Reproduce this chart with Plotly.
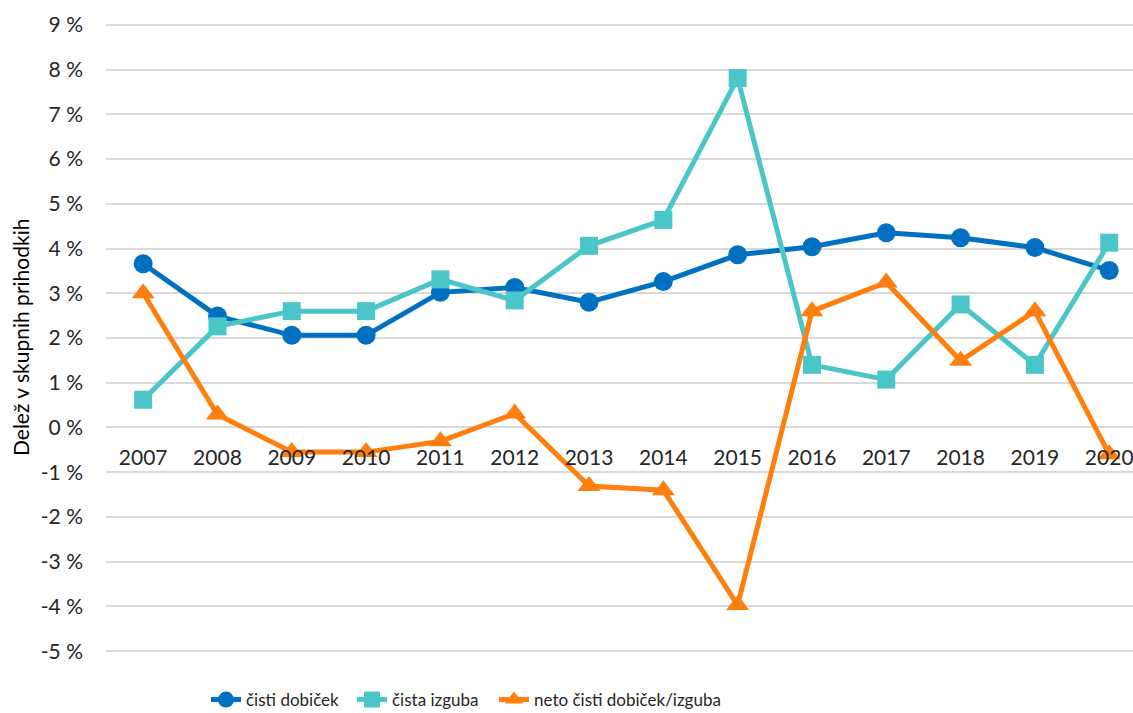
import plotly.graph_objects as go

years = ["2007", "2008", "2009", "2010", "2011", "2012", "2013",
         "2014", "2015", "2016", "2017", "2018", "2019", "2020"]
cisti_dobicek = [3.66, 2.49, 2.06, 2.06, 3.02, 3.13, 2.80, 3.26, 3.86, 4.04, 4.35, 4.24, 4.02, 3.51]
cista_izguba = [0.62, 2.26, 2.60, 2.60, 3.31, 2.84, 4.06, 4.64, 7.81, 1.40, 1.07, 2.75, 1.40, 4.13]
neto = [3.00, 0.29, -0.55, -0.55, -0.31, 0.31, -1.31, -1.40, -3.97, 2.60, 3.24, 1.49, 2.60, -0.60]

y_tick_vals = [-5, -4, -3, -2, -1, 0, 1, 2, 3, 4, 5, 6, 7, 8, 9]
y_tick_text = ["-5 %", "-4 %", "-3 %", "-2 %", "-1 %", "0 %", "1 %", "2 %", "3 %",
               "4 %", "5 %", "6 %", "7 %", "8 %", "9 %"]

FONT = "Lato"
TXT = "#262626"
L, R, T, B = 106, 0, 23, 60
W, H = 1133, 713
PW, PH = W - L - R, H - T - B

# (name, values, colour, symbol, size, legend id, legend left px)
series = [
    ("čisti dobiček", cisti_dobicek, "#0070C0", "circle", 19, "legend", 206),
    ("čista izguba", cista_izguba, "#4BC6C8", "square", 18, "legend2", 352),
    ("neto čisti dobiček/izguba", neto, "#FF7F0E", "triangle-up", 20, "legend3", 494),
]

fig = go.Figure()
legends = {}
for name, vals, col, sym, sz, leg, lx in series:
    fig.add_trace(go.Scatter(
        x=years, y=vals, name=name, mode="lines+markers", legend=leg,
        line=dict(color=col, width=5),
        marker=dict(color=col, symbol=sym, size=sz),
    ))
    legends[leg] = dict(orientation="h", x=(lx - L) / PW, xanchor="left",
                        y=-(700 - (H - B)) / PH, yanchor="middle",
                        font=dict(family=FONT, size=17, color=TXT), itemwidth=30,
                        bgcolor="rgba(0,0,0,0)")

ylo, yhi = -5.04, 9.04
fig.update_layout(
    width=W, height=H,
    margin=dict(l=L, r=R, t=T, b=B, autoexpand=False),
    paper_bgcolor="white", plot_bgcolor="white",
    font=dict(family=FONT, size=21, color=TXT),
    showlegend=True,
    xaxis=dict(type="category", range=[-0.5, 13.32], anchor="free",
               position=(0 - ylo) / (yhi - ylo), automargin=False,
               showgrid=False, showline=False, zeroline=False, ticks="",
               ticklabelstandoff=16, tickfont=dict(family=FONT, size=21, color=TXT)),
    yaxis=dict(range=[ylo, yhi], tickvals=y_tick_vals, ticktext=y_tick_text,
               automargin=False,
               showgrid=True, gridcolor="#D9D9D9", gridwidth=2,
               zeroline=False, showline=False, ticks="",
               ticklabelstandoff=22, tickfont=dict(family=FONT, size=21, color=TXT)),
    annotations=[dict(text="Delež v skupnih prihodkih", textangle=-90,
                      xref="paper", yref="paper", x=(20 - L) / PW, y=0.5,
                      xanchor="center", yanchor="middle", showarrow=False,
                      font=dict(family=FONT, size=21, color="#000000"))],
    **legends,
)

fig.write_html("out.html", config={"displayModeBar": False},
               post_script="document.body.style.margin='0';")
